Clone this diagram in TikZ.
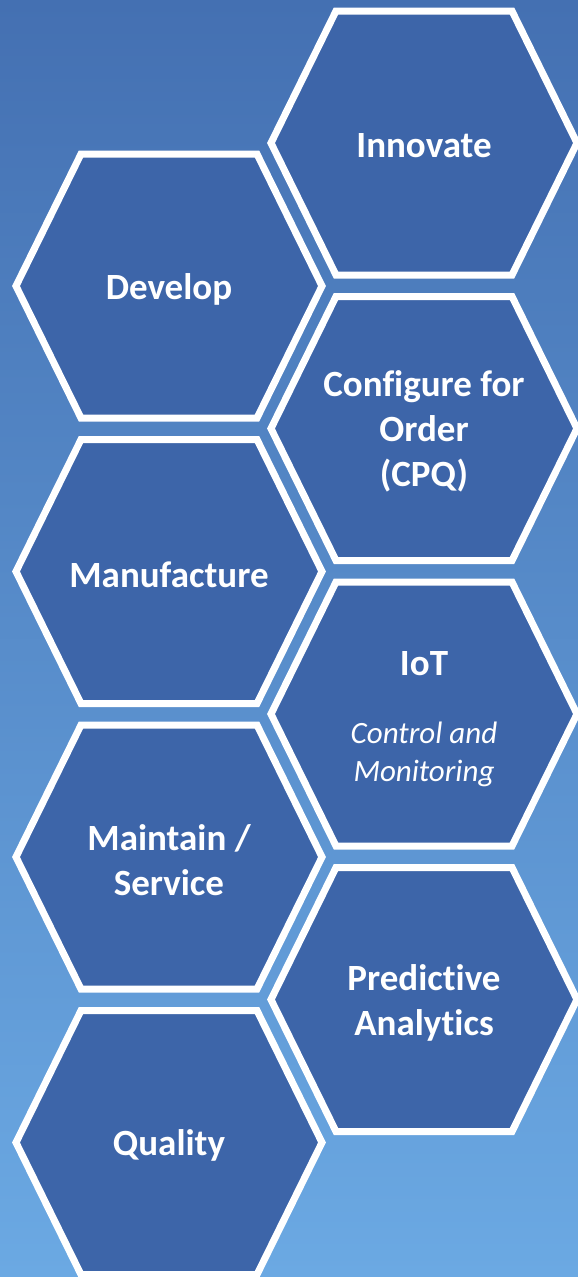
\documentclass[tikz,border=0pt]{standalone}
\usepackage{fontspec}
\setmainfont[Ligatures=NoCommon]{Carlito}

\definecolor{bgtop}{HTML}{4470B2}
\definecolor{bgbottom}{HTML}{6BA9E3}
\definecolor{hexblue}{HTML}{3D65A9}

\pgfdeclarelayer{back}
\pgfdeclarelayer{hexes}
\pgfsetlayers{back,hexes,main}

\newcommand{\ctlfont}{\mdseries\itshape\fontsize{31}{38}\selectfont}

\tikzset{
    cell/.style={text=white, font=\bfseries\fontsize{37}{45}\selectfont, align=center, yshift=-3pt},
    hexline/.style={fill=hexblue, draw=white, line width=7pt},
}

\begin{document}
\begin{tikzpicture}[x=1pt, y=-1pt]
    \useasboundingbox (0,0) rectangle (578,1277);

    % right column
    \node[cell] (innovate) at (424,143) {Innovate};
    \node[cell] (configure) at (424,428.5) {Configure for\\Order\\(CPQ)};
    \node[cell, yshift=-2.5pt] (iot) at (424,714) {IoT\\[23pt]\ctlfont Control and\\[-7pt]\ctlfont Monitoring};
    \node[cell] (predictive) at (424,999.5) {Predictive\\Analytics};

    % left column
    \node[cell] (develop) at (169,286) {Develop};
    \node[cell] (manufacture) at (169,571.5) {Manufacture};
    \node[cell] (maintain) at (169,857) {Maintain /\\Service};
    \node[cell] (quality) at (169,1142.5) {Quality};

    % hexagons behind the texts (texts sit a little below the centres)
    \begin{pgfonlayer}{hexes}
        \foreach \n/\s in {innovate/3,configure/3,iot/5.5,predictive/3,develop/3,manufacture/3,maintain/3,quality/3}
            \draw[hexline] (\n.center) ++(0,-\s) ++(-88,-132) -- ++(176,0) -- ++(65,132)
                -- ++(-65,132) -- ++(-176,0) -- ++(-65,-132) -- cycle;
    \end{pgfonlayer}

    \begin{pgfonlayer}{back}
        \shade[top color=bgtop, bottom color=bgbottom] (0,0) rectangle (578,1277);
    \end{pgfonlayer}
\end{tikzpicture}
\end{document}
